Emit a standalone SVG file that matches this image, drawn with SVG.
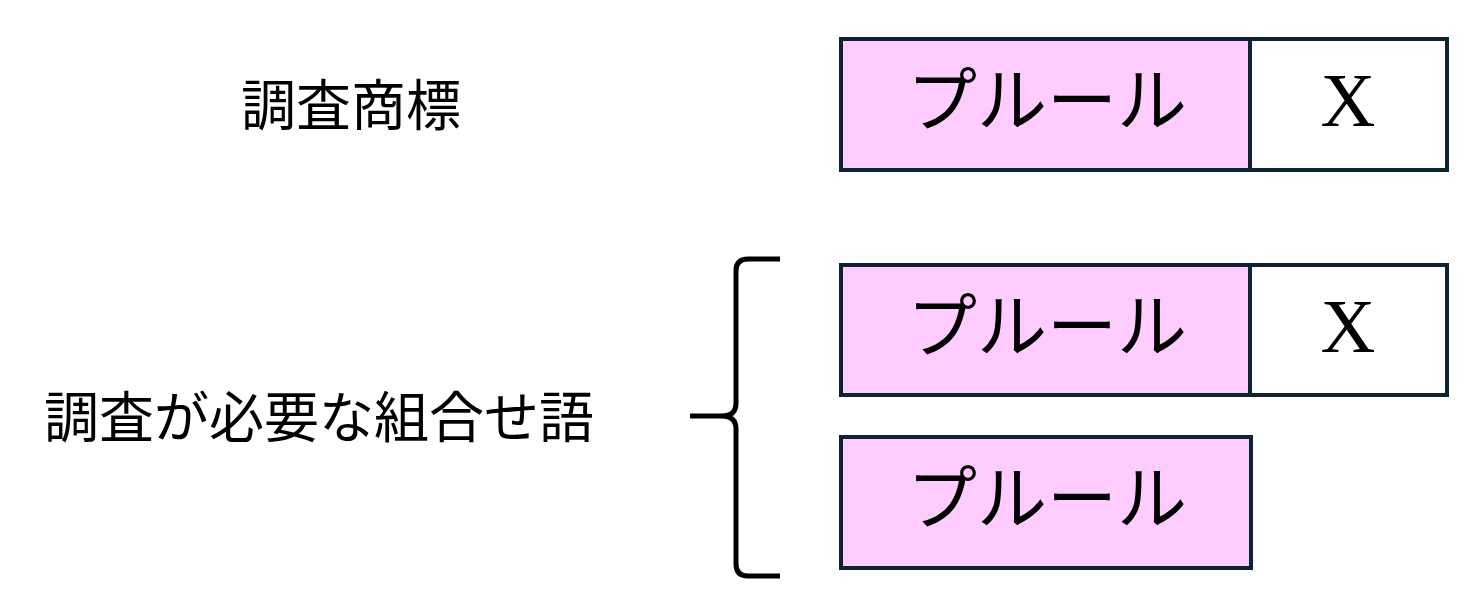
<svg xmlns="http://www.w3.org/2000/svg" width="1464" height="615" viewBox="0 0 1464 615">
<style>
.box{stroke:#0e2433;stroke-width:4;}
.pink{fill:#ffccff;}
.white{fill:#ffffff;}
.kana{font-family:"Noto Sans CJK JP",sans-serif;font-size:70px;fill:#000;text-anchor:middle;}
.x{font-family:"Liberation Serif",serif;font-size:76px;fill:#000;text-anchor:middle;}
.label{font-family:"Noto Sans CJK JP",sans-serif;font-size:55px;fill:#000;text-anchor:middle;}
</style>
<rect width="1464" height="615" fill="#ffffff"/>
<g id="label-trademark"><text class="label" x="351" y="125">調査商標</text></g>
<g id="label-combination"><text class="label" x="319" y="437">調査が必要な組合せ語</text></g>
<g id="row1">
<rect class="box pink" x="841" y="39" width="409" height="131"/>
<rect class="box white" x="1250" y="39" width="197" height="131"/>
<text class="kana" x="1047" y="126">プルール</text>
<text class="x" x="1348" y="126">X</text>
</g>
<g id="row2">
<rect class="box pink" x="841" y="265" width="409" height="130"/>
<rect class="box white" x="1250" y="265" width="197" height="130"/>
<text class="kana" x="1047" y="352">プルール</text>
<text class="x" x="1348" y="352">X</text>
</g>
<g id="row3">
<rect class="box pink" x="841" y="437" width="410" height="131"/>
<text class="kana" x="1047" y="524">プルール</text>
</g>
<g id="connectors">
<path d="M780 259 H748 Q736 259 736 271 V403 Q736 416 722 416 H690 M722 416 Q736 416 736 429 V564 Q736 576 748 576 H780" fill="none" stroke="#000" stroke-width="5"/>
</g>
</svg>
